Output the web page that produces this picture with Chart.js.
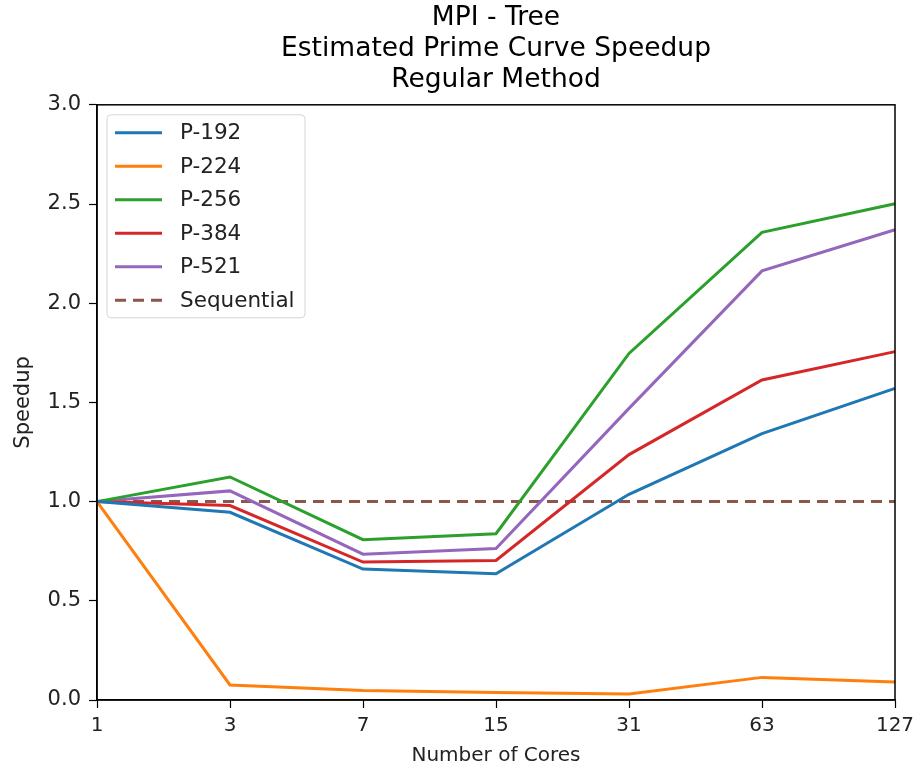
<!DOCTYPE html>
<html>
<head>
<meta charset="utf-8">
<script src="https://cdn.jsdelivr.net/npm/chart.js@4.4.0/dist/chart.umd.min.js"></script>
<style>
  html, body { margin: 0; padding: 0; background: #fff; }
  #wrap { width: 918px; height: 768px; }
</style>
</head>
<body>
<div id="wrap"><canvas id="myChart" width="918" height="768"></canvas></div>
<script>
// core counts on the x axis
var cores = ['1', '3', '7', '15', '31', '63', '127'];

// speedup per prime curve
var p192 = [1.0, 0.946, 0.660, 0.636, 1.037, 1.343, 1.571];
var p224 = [1.0, 0.076, 0.048, 0.038, 0.030, 0.114, 0.091];
var p256 = [1.0, 1.124, 0.808, 0.838, 1.747, 2.357, 2.501];
var p384 = [1.0, 0.980, 0.695, 0.703, 1.237, 1.613, 1.756];
var p521 = [1.0, 1.054, 0.735, 0.764, 1.470, 2.163, 2.370];
var sequential = [1, 1, 1, 1, 1, 1, 1];

var yTicks = [0, 0.5, 1.0, 1.5, 2.0, 2.5, 3.0];

var FONT = "'DejaVu Sans', sans-serif";

function line(label, data, color, dash) {
  return {
    label: label,
    data: data,
    borderColor: color,
    backgroundColor: color,
    borderWidth: 3,
    borderDash: dash || [],
    pointRadius: 0,
    fill: false,
    tension: 0
  };
}

// box around the plot + matplotlib style legend in the upper left
var framePlugin = {
  id: 'frame',
  afterDraw: function(chart) {
    var ctx = chart.ctx, a = chart.chartArea;
    ctx.save();
    ctx.strokeStyle = '#000';
    ctx.lineWidth = 1.5;
    ctx.strokeRect(a.left, a.top, a.right - a.left, a.bottom - a.top);

    var x = a.left + 10, y = a.top + 10, w = 198, h = 203;
    ctx.fillStyle = 'rgba(255,255,255,0.85)';
    ctx.strokeStyle = '#d6d6d6';
    ctx.lineWidth = 1;
    ctx.beginPath();
    ctx.roundRect(x, y, w, h, 4);
    ctx.fill();
    ctx.stroke();

    ctx.font = '21.5px ' + FONT;
    ctx.textBaseline = 'middle';
    chart.data.datasets.forEach(function(ds, i) {
      var cy = y + 18 + i * 33.5;
      ctx.strokeStyle = ds.borderColor;
      ctx.lineWidth = 3;
      ctx.setLineDash(ds.borderDash);
      ctx.beginPath();
      ctx.moveTo(x + 8, cy);
      ctx.lineTo(x + 55, cy);
      ctx.stroke();
      ctx.setLineDash([]);
      ctx.fillStyle = '#222';
      ctx.fillText(ds.label, x + 73, cy + 1);
    });
    ctx.restore();
  }
};

var ctx = document.getElementById('myChart').getContext('2d');
var chart = new Chart(ctx, {
  type: 'line',
  data: {
    labels: cores,
    datasets: [
      line('P-192', p192, '#1f77b4'),
      line('P-224', p224, '#ff7f0e'),
      line('P-256', p256, '#2ca02c'),
      line('P-384', p384, '#d62728'),
      line('P-521', p521, '#9467bd'),
      line('Sequential', sequential, '#8c564b', [11, 7])
    ]
  },
  options: {
    responsive: false,
    animation: false,
    layout: { padding: { left: 0, right: 23, top: 0, bottom: 0 } },
    plugins: {
      legend: { display: false },
      tooltip: { enabled: false },
      title: {
        display: true,
        fullSize: false,
        text: ['MPI - Tree', 'Estimated Prime Curve Speedup', 'Regular Method'],
        color: '#000',
        font: { family: FONT, size: 26.5, weight: 'normal', lineHeight: 1.18 },
        padding: { top: 2, bottom: 9 }
      }
    },
    scales: {
      x: {
        offset: false,
        grid: { display: true, drawOnChartArea: false, tickLength: 8, tickColor: '#000', tickWidth: 1.2 },
        border: { color: '#000', width: 1.5 },
        ticks: { color: '#222', font: { family: FONT, size: 20 }, padding: 6, maxRotation: 0 },
        title: { display: true, text: 'Number of Cores', color: '#222', font: { family: FONT, size: 20 }, padding: { top: 0, bottom: 0 } },
        afterFit: function(s) { s.height = 68; s.paddingLeft = 0; s.paddingRight = 0; }
      },
      y: {
        min: 0,
        max: 3,
        afterBuildTicks: function(s) { s.ticks = yTicks.map(function(v) { return { value: v }; }); },
        grid: { display: true, drawOnChartArea: false, tickLength: 8, tickColor: '#000', tickWidth: 1.2 },
        border: { color: '#000', width: 1.5 },
        ticks: {
          color: '#222',
          font: { family: FONT, size: 21 },
          padding: 8,
          callback: function(v) { return Number(v).toFixed(1); }
        },
        title: { display: true, text: 'Speedup', color: '#222', font: { family: FONT, size: 21 }, padding: { top: 11, bottom: 0 } },
        afterFit: function(s) { s.width = 97; }
      }
    }
  },
  plugins: [framePlugin]
});
</script>
</body>
</html>
